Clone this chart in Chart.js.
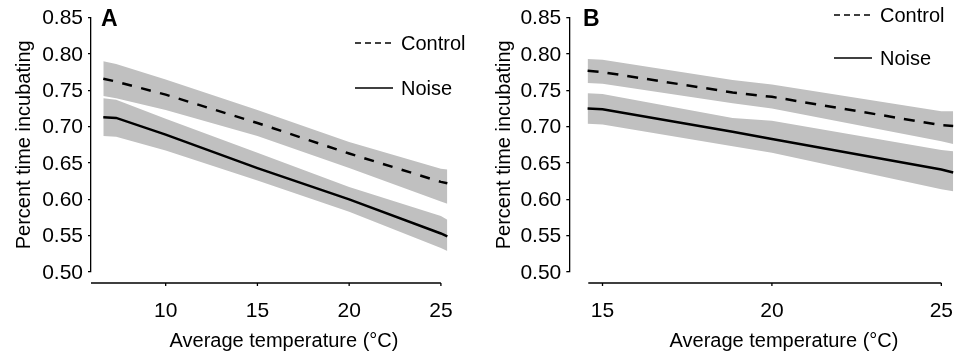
<!DOCTYPE html>
<html>
<head>
<meta charset="utf-8">
<script src="https://cdn.jsdelivr.net/npm/chart.js@4.4.1/dist/chart.umd.min.js"></script>
<style>
  html, body { margin: 0; padding: 0; background: #fff; overflow: hidden; }
  #wrap { position: relative; width: 969px; height: 353px; overflow: hidden; }
  canvas { position: absolute; top: 0; }
  #chartA { left: 0; }
  #chartB { left: 480px; }
</style>
</head>
<body>
<div id="wrap">
  <canvas id="chartA" width="480" height="353"></canvas>
  <canvas id="chartB" width="500" height="353"></canvas>
</div>
<script>
// Panel A - temperature (°C) and fitted proportion of time incubating
const tempA = [6.6, 7.3, 10, 15, 20, 25, 25.35];
const controlA = [0.766, 0.762, 0.744, 0.705, 0.663, 0.624, 0.622];
const controlHiA = [0.790, 0.786, 0.765, 0.723, 0.679, 0.642, 0.641];
const controlLoA = [0.742, 0.739, 0.723, 0.687, 0.643, 0.597, 0.594];
const noiseA = [0.713, 0.712, 0.689, 0.643, 0.600, 0.553, 0.549];
const noiseHiA = [0.739, 0.737, 0.711, 0.664, 0.617, 0.577, 0.572];
const noiseLoA = [0.687, 0.686, 0.667, 0.626, 0.583, 0.533, 0.529];

// Panel B
const tempB = [14.56, 15, 18.84, 20, 25, 25.35];
const controlB = [0.777, 0.775, 0.747, 0.741, 0.702, 0.701];
const controlHiB = [0.793, 0.792, 0.764, 0.758, 0.721, 0.721];
const controlLoB = [0.760, 0.759, 0.732, 0.725, 0.680, 0.676];
const noiseB = [0.725, 0.724, 0.693, 0.683, 0.641, 0.637];
const noiseHiB = [0.746, 0.745, 0.712, 0.708, 0.668, 0.666];
const noiseLoB = [0.704, 0.703, 0.673, 0.664, 0.614, 0.611];

const yTicks = [0.50, 0.55, 0.60, 0.65, 0.70, 0.75, 0.80, 0.85];
const xTicksA = [10, 15, 20, 25];
const xTicksB = [15, 20, 25];
const seriesNames = ['Control', 'Noise'];

const FONT = "'Liberation Sans', Arial, Helvetica, sans-serif";
const BAND = '#c0c0c0';

Chart.defaults.font.family = FONT;
Chart.defaults.font.size = 20;
Chart.defaults.color = '#000';

function pts(xs, ys) {
    return xs.map((x, i) => ({ x: x, y: ys[i] }));
}

// axis line under the plot (detached from the y axis), legend, panel letter, x title
const panelDecor = {
    id: 'panelDecor',
    afterDraw(chart, args, opts) {
        const ctx = chart.ctx;
        const xs = chart.scales.x;
        const yAxis = chart.chartArea.bottom + 11;
        ctx.save();
        ctx.strokeStyle = '#000';
        ctx.lineWidth = 1.3;
        ctx.beginPath();
        ctx.moveTo(xs.getPixelForValue(opts.axisFrom), yAxis);
        ctx.lineTo(xs.getPixelForValue(opts.axisTo), yAxis);
        opts.ticks.forEach(v => {
            const px = xs.getPixelForValue(v);
            ctx.moveTo(px, yAxis);
            ctx.lineTo(px, yAxis + 3);
        });
        ctx.stroke();

        // x title
        ctx.fillStyle = '#000';
        ctx.font = '20px ' + FONT;
        ctx.textAlign = 'center';
        ctx.textBaseline = 'alphabetic';
        ctx.fillText('Average temperature (°C)', opts.titleX, 347);

        // panel letter
        ctx.font = 'bold 23px ' + FONT;
        ctx.textAlign = 'left';
        ctx.fillText(opts.letter, opts.letterX, 26);

        // legend
        ctx.font = '20px ' + FONT;
        ctx.textBaseline = 'middle';
        ctx.lineWidth = 1.4;
        ctx.setLineDash([6, 4]);
        ctx.beginPath();
        ctx.moveTo(opts.legX, opts.legY[0]);
        ctx.lineTo(opts.legX + 38, opts.legY[0]);
        ctx.stroke();
        ctx.setLineDash([]);
        ctx.beginPath();
        ctx.moveTo(opts.legX, opts.legY[1]);
        ctx.lineTo(opts.legX + 38, opts.legY[1]);
        ctx.stroke();
        ctx.fillText(seriesNames[0], opts.legX + 46, opts.legY[0] + 1);
        ctx.fillText(seriesNames[1], opts.legX + 46, opts.legY[1] + 1);
        ctx.restore();
    }
};

function makePanel(id, t, c, cHi, cLo, n, nHi, nLo, cfg) {
    const ctx = document.getElementById(id).getContext('2d');
    return new Chart(ctx, {
        type: 'line',
        data: {
            datasets: [
                {
                    data: pts(t, c),
                    borderColor: '#000',
                    borderWidth: 2.5,
                    borderDash: cfg.dash,
                    pointRadius: 0,
                    fill: false
                },
                {
                    data: pts(t, n),
                    borderColor: '#000',
                    borderWidth: 2.5,
                    pointRadius: 0,
                    fill: false
                },
                { data: pts(t, cHi), borderWidth: 0, pointRadius: 0, fill: false },
                { data: pts(t, cLo), borderWidth: 0, pointRadius: 0, fill: '-1', backgroundColor: BAND },
                { data: pts(t, nHi), borderWidth: 0, pointRadius: 0, fill: false },
                { data: pts(t, nLo), borderWidth: 0, pointRadius: 0, fill: '-1', backgroundColor: BAND }
            ]
        },
        options: {
            responsive: false,
            animation: false,
            devicePixelRatio: 1,
            events: [],
            layout: {
                padding: { top: 15, right: cfg.padRight, bottom: 0, left: 0 }
            },
            plugins: {
                legend: { display: false },
                tooltip: { enabled: false },
                panelDecor: cfg.decor
            },
            scales: {
                x: {
                    type: 'linear',
                    min: cfg.xMin,
                    max: cfg.xMax,
                    grid: { display: false, drawTicks: false },
                    border: { display: false },
                    ticks: { padding: 27, maxRotation: 0, font: { size: 21 } },
                    afterBuildTicks: s => { s.ticks = cfg.xTicks.map(v => ({ value: v })); },
                    afterFit: s => { s.height = 81; }
                },
                y: {
                    min: 0.5,
                    max: 0.85,
                    grid: {
                        drawOnChartArea: false,
                        drawTicks: true,
                        tickLength: 3,
                        color: '#000',
                        lineWidth: 1.3
                    },
                    border: { display: true, color: '#000', width: 1.3 },
                    ticks: {
                        padding: 5,
                        labelOffset: 1,
                        font: { size: 21 },
                        callback: v => Number(v).toFixed(2)
                    },
                    afterBuildTicks: s => { s.ticks = yTicks.map(v => ({ value: v })); },
                    afterFit: s => { s.width = cfg.yWidth; },
                    title: {
                        display: true,
                        text: 'Percent time incubating',
                        padding: { top: 12, bottom: 0 }
                    }
                }
            }
        },
        plugins: [panelDecor]
    });
}

makePanel('chartA', tempA, controlA, controlHiA, controlLoA, noiseA, noiseHiA, noiseLoA, {
    dash: [10, 9.5],
    xMin: 5.93,
    xMax: 25.4,
    padRight: 20.4,
    yWidth: 91,
    xTicks: xTicksA,
    decor: {
        axisFrom: 5.93, axisTo: 25, ticks: xTicksA,
        titleX: 284, letter: 'A', letterX: 101,
        legX: 355, legY: [43, 88]
    }
});

makePanel('chartB', tempB, controlB, controlHiB, controlLoB, noiseB, noiseHiB, noiseLoB, {
    dash: [11, 9],
    xMin: 14.02,
    xMax: 25.61,
    padRight: 0,
    yWidth: 89.3,
    xTicks: xTicksB,
    decor: {
        axisFrom: 14.58, axisTo: 25, ticks: xTicksB,
        titleX: 304, letter: 'B', letterX: 103,
        legX: 354, legY: [15, 58]
    }
});
</script>
</body>
</html>
